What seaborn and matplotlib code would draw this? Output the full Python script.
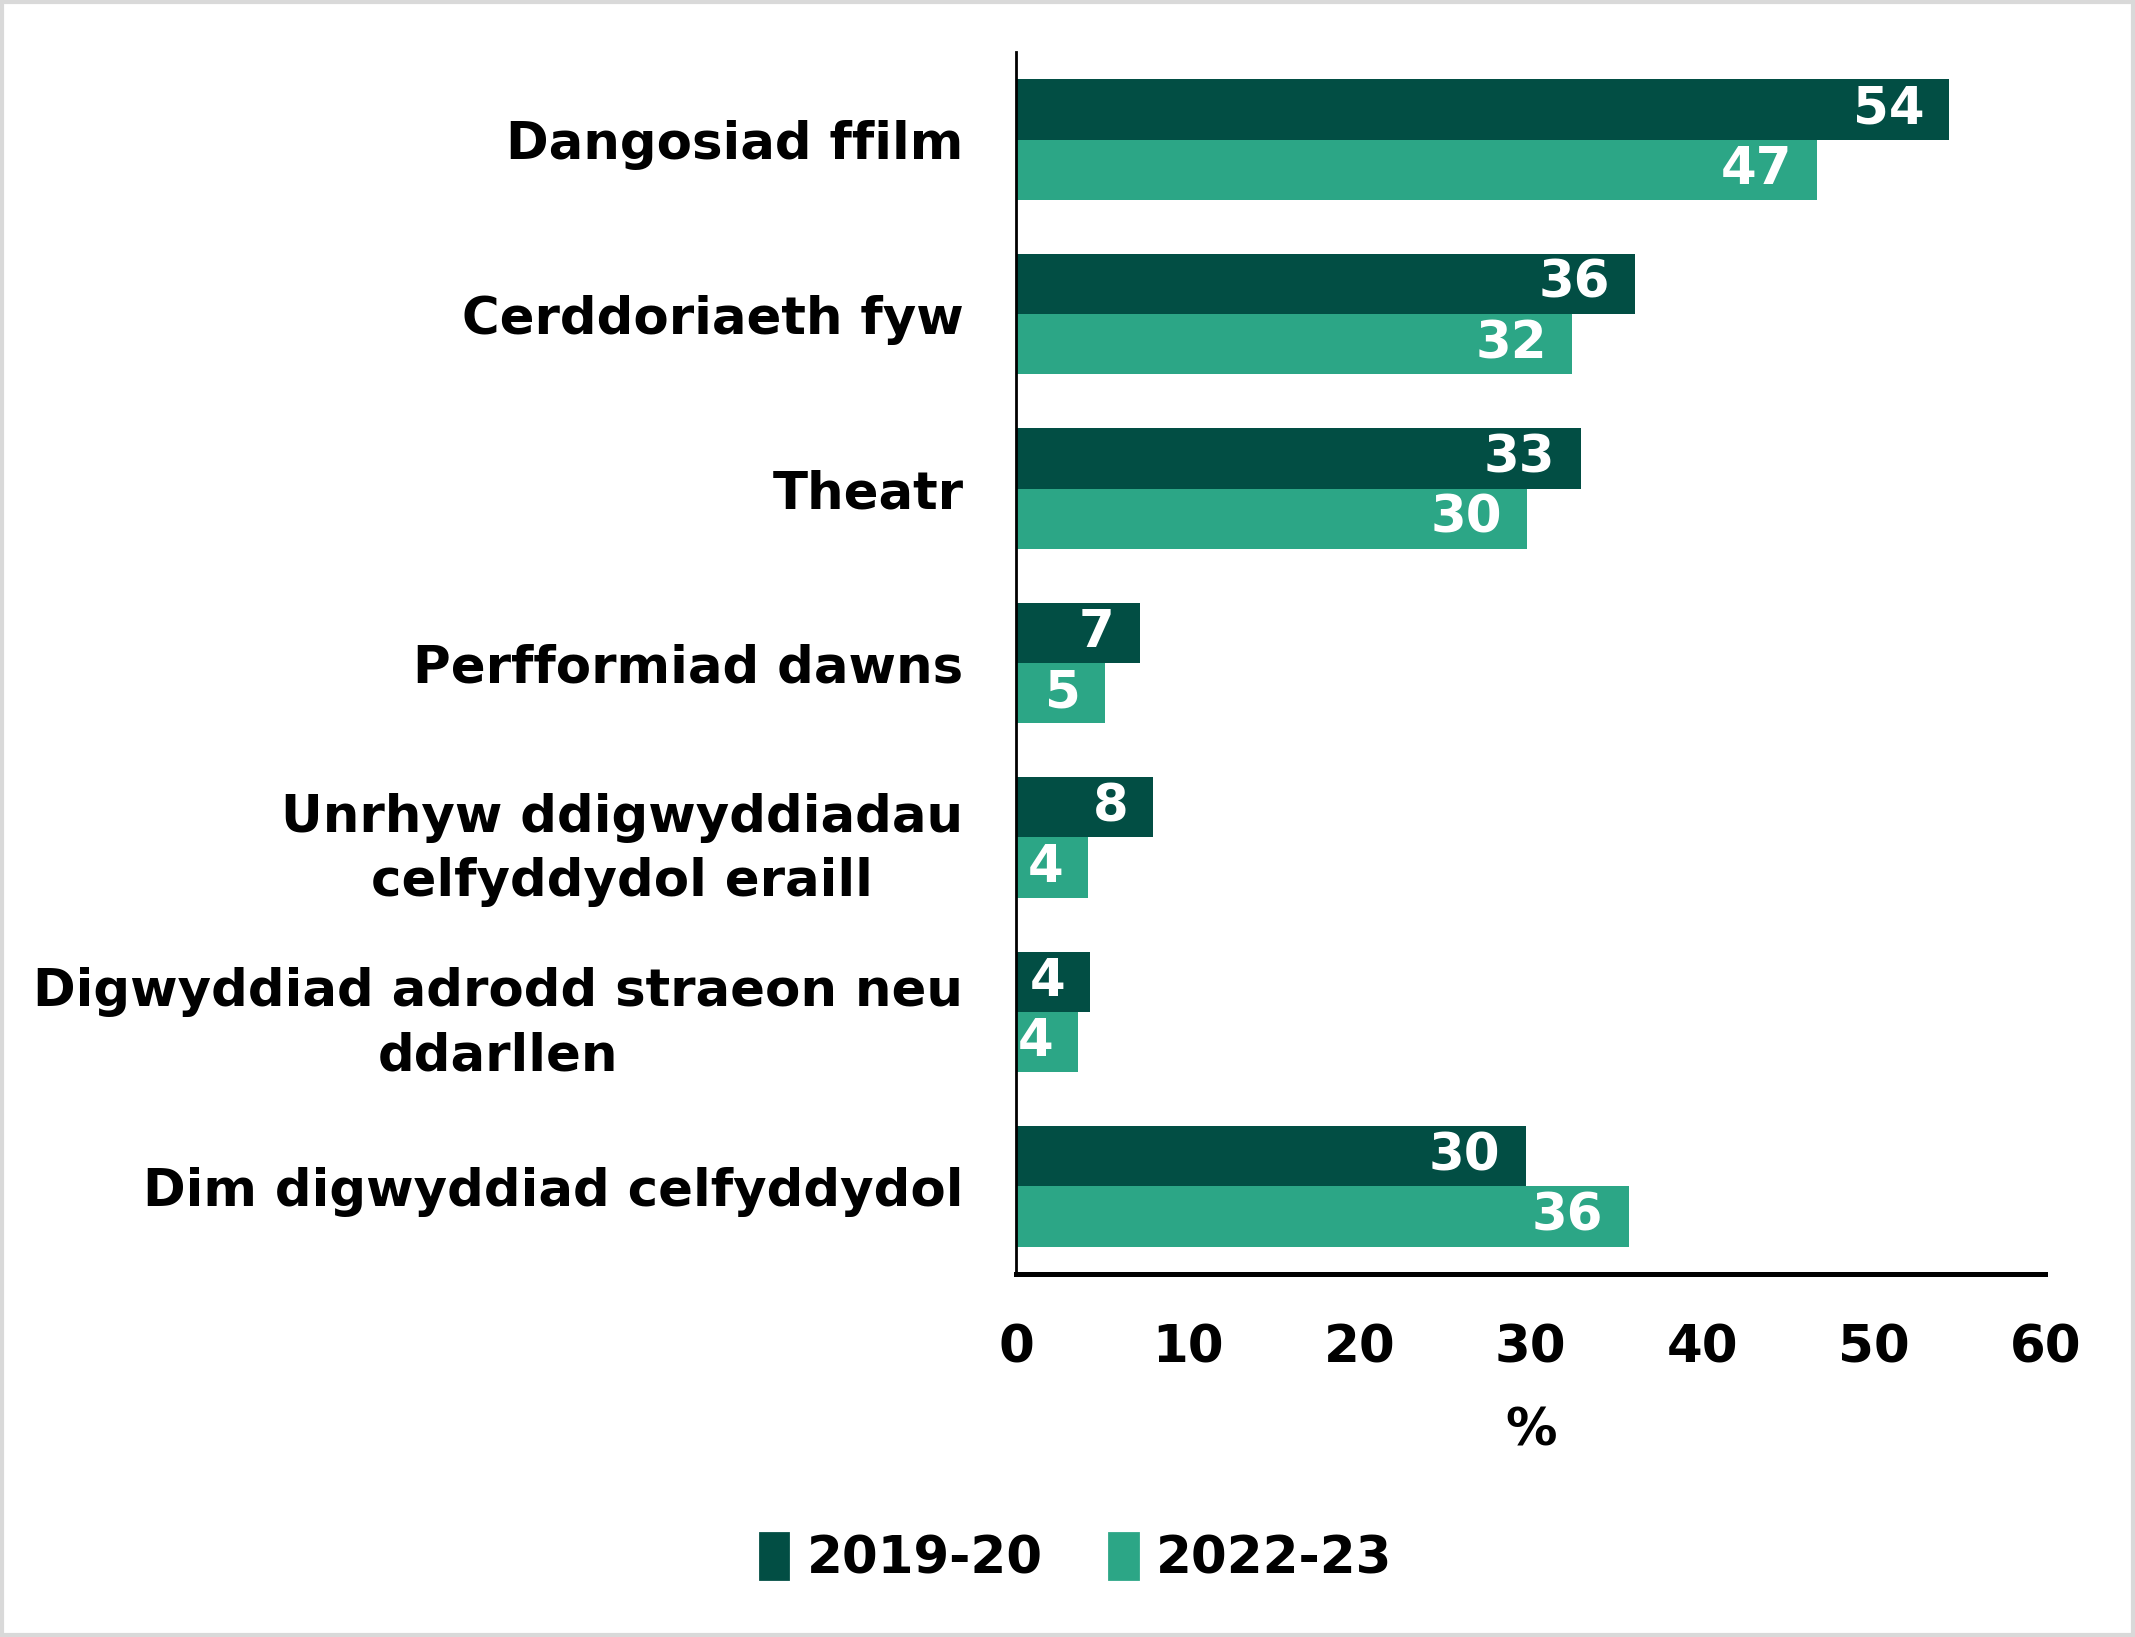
import seaborn as sns
import matplotlib.pyplot as plt
import matplotlib.patches as mpatches
import pandas as pd

# Categories and values (per cent)
categories = [
    'Dangosiad ffilm',
    'Cerddoriaeth fyw',
    'Theatr',
    'Perfformiad dawns',
    'Unrhyw ddigwyddiadau\ncelfyddydol eraill',
    'Digwyddiad adrodd straeon neu\nddarllen',
    'Dim digwyddiad celfyddydol',
]
values_2019 = [54.4, 36.1, 32.9, 7.2, 8.0, 4.3, 29.7]
values_2022 = [46.7, 32.4, 29.8, 5.2, 4.2, 3.6, 35.7]
series = ['2019-20', '2022-23']
x_ticks = [0, 10, 20, 30, 40, 50, 60]

dark = '#024E44'
light = '#2CA686'
fs = 18.5

df = pd.DataFrame({
    'Category': categories * 2,
    'Value': values_2019 + values_2022,
    'Year': [series[0]] * len(categories) + [series[1]] * len(categories),
})

sns.set_style('white')
plt.rcParams['font.family'] = ['DejaVu Sans']
plt.rcParams['font.weight'] = 'bold'
plt.rcParams['text.color'] = 'black'
plt.rcParams['xtick.color'] = 'black'
plt.rcParams['ytick.color'] = 'black'
plt.rcParams['axes.labelcolor'] = 'black'

fig = plt.figure(figsize=(10.675, 8.185), dpi=200)
ax = fig.add_axes([0.476, 0.222, 0.482, 0.746])

sns.barplot(data=df, y='Category', x='Value', hue='Year', orient='h',
            palette=[dark, light], width=0.69, ax=ax, legend=False,
            saturation=1, linewidth=0)

# value labels inside the bar ends
for cont in ax.containers:
    labels = ax.bar_label(cont, fmt='%.0f', padding=-9, color='white',
                          fontsize=fs, fontweight='bold')
    for t in labels:
        t.set_ha('right')

ax.set_xlim(0, 60)
ax.set_xticks(x_ticks)
ax.set_ylim(6.5, -0.5)
ax.set_ylabel('')
ax.set_xlabel('%', fontsize=fs, fontweight='bold', labelpad=12)
ax.tick_params(axis='x', length=0, pad=18, labelsize=fs)
ax.tick_params(axis='y', length=0, pad=19, labelsize=fs)
for lab in ax.get_yticklabels():
    lab.set_multialignment('center')
    lab.set_linespacing(1.35)
    lab.set_fontweight('bold')
for lab in ax.get_xticklabels():
    lab.set_fontweight('bold')

sns.despine(ax=ax, top=True, right=True)
ax.spines['left'].set_linewidth(1.0)
ax.spines['left'].set_color('black')
ax.spines['bottom'].set_linewidth(1.8)
ax.spines['bottom'].set_color('black')

handles = [mpatches.Patch(color=dark, label=series[0]),
           mpatches.Patch(color=light, label=series[1])]
fig.legend(handles=handles, loc='center', bbox_to_anchor=(0.504, 0.048),
           ncol=2, frameon=False, handlelength=0.55,
           handleheight=1.0, handletextpad=0.35, columnspacing=1.3,
           prop={'weight': 'bold', 'size': fs})

# light grey border round the figure
fig.patches.append(mpatches.Rectangle((0.001, 0.001), 0.998, 0.998,
                                      transform=fig.transFigure, fill=False,
                                      edgecolor='#D9D9D9', linewidth=1.5))

fig.savefig('out.png', dpi=200, facecolor='white')
